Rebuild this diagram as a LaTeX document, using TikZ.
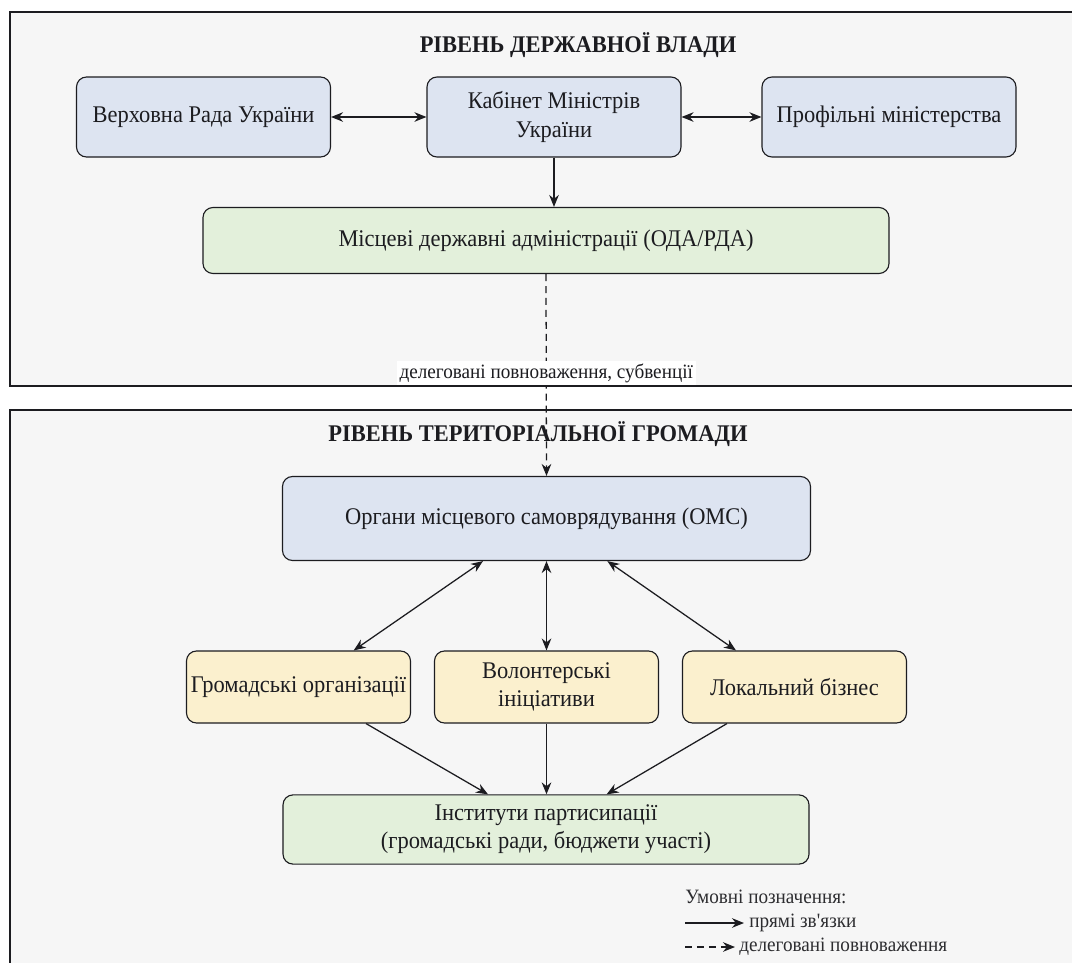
\documentclass[tikz,border=0pt]{standalone}
\usepackage{fontspec}
\setmainfont{Liberation Serif}[FakeStretch=0.94]
\usetikzlibrary{arrows.meta,positioning,calc}
\definecolor{Ink}{RGB}{28,28,32}
\definecolor{PanelGray}{RGB}{246,246,246}
\definecolor{SoftBlue}{RGB}{221,228,241}
\definecolor{SoftGreen}{RGB}{227,240,219}
\definecolor{SoftYellow}{RGB}{251,240,206}
\definecolor{LegendInk}{RGB}{45,45,48}
\tikzset{
  >={Stealth[length=3mm,width=2.4mm]},
  panel/.style={draw=Ink,line width=2pt,fill=PanelGray},
  box/.style={draw=Ink,line width=.8pt,rounded corners=2.5mm,align=center,text=Ink,font=\fontsize{17}{20}\selectfont,inner sep=2pt},
  gov/.style={box,fill=SoftBlue,minimum width=6.35cm,minimum height=2cm},
  local/.style={box,fill=SoftBlue,minimum width=13.2cm,minimum height=2.1cm},
  adm/.style={box,fill=SoftGreen,minimum height=1.65cm},
  actor/.style={box,fill=SoftYellow,minimum width=5.6cm,minimum height=1.8cm},
  leveltitle/.style={font=\bfseries\fontsize{17}{20}\selectfont,text=Ink},
  note/.style={font=\fontsize{14.5}{17}\selectfont,text=Ink,fill=white,inner sep=2pt},
  legend/.style={font=\fontsize{14.5}{17}\selectfont,text=LegendInk,inner sep=0pt},
  link/.style={line width=.9pt,draw=Ink},
  deleg/.style={line width=.9pt,draw=Ink,dash pattern=on 5pt off 3.5pt}
}
\begin{document}
\begin{tikzpicture}[x=.25mm,y=-.25mm]
  \useasboundingbox (0,0) rectangle (1072,962);
  \begin{scope}
    \clip (0,0) rectangle (1072,962);
    \draw[panel] (10,12) rectangle (1100,386);
    \draw[panel] (10,410) rectangle (1100,1000);
  \end{scope}
  \node[leveltitle] (stateT) at (578,45) {РІВЕНЬ ДЕРЖАВНОЇ ВЛАДИ};
  \node[gov] (vr) at (203.5,117) {Верховна Рада України};
  \node[gov] (km) at (554,117) {Кабінет Міністрів\\України};
  \node[gov] (pm) at (889,117) {Профільні міністерства};
  \node[adm,minimum width=17.15cm] (oda) at (546,240.5) {Місцеві державні адміністрації (ОДА/РДА)};
  \node[leveltitle] (commT) at (538,434) {РІВЕНЬ ТЕРИТОРІАЛЬНОЇ ГРОМАДИ};
  \node[local] (oms) at (546.5,518.5) {Органи місцевого самоврядування (ОМС)};
  \node[actor] (go) at (298.5,687) {Громадські організації};
  \node[actor] (vi) at (546.5,687) {Волонтерські\\ініціативи};
  \node[actor] (lb) at (794.5,687) {Локальний бізнес};
  \node[adm,minimum width=13.15cm,minimum height=1.73cm] (ip) at (546,829.5) {Інститути партисипації\\(громадські ради, бюджети участі)};
  \draw[link,<->] (vr) -- (km);
  \draw[link,<->] (km) -- (pm);
  \draw[link,->] (km.south) -- (km.south |- oda.north);
  \draw[deleg,->] (oda.south) -- node[note,pos=.49]{делеговані повноваження, субвенції} (oms.north);
  \draw[link,<->] ($(oms.south)!.24!(oms.south west)$) -- ($(go.north)!.49!(go.north east)$);
  \draw[link,<->] (oms.south) -- (oms.south |- vi.north);
  \draw[link,<->] ($(oms.south)!.23!(oms.south east)$) -- ($(lb.north)!.52!(lb.north west)$);
  \draw[link,->] ($(go.south)!.6!(go.south east)$) -- ($(ip.north)!.22!(ip.north west)$);
  \draw[link,->] (vi.south) -- (vi.south |- ip.north);
  \draw[link,->] ($(lb.south)!.6!(lb.south west)$) -- ($(ip.north)!.23!(ip.north east)$);
  \node[legend,anchor=west] (legT) at (685,897) {Умовні позначення:};
  \coordinate (solidA) at (685,923);
  \coordinate (solidB) at (744,923);
  \coordinate (dashA) at (685,947);
  \coordinate (dashB) at (735,947);
  \draw[link,->] (solidA) -- (solidB);
  \draw[deleg,->] (dashA) -- (dashB);
  \node[legend,anchor=west] (solidT) at (749,923) {прямі зв\textquotesingle язки};
  \node[legend,anchor=west] (dashT) at (739,947) {делеговані повноваження};
\end{tikzpicture}
\end{document}
